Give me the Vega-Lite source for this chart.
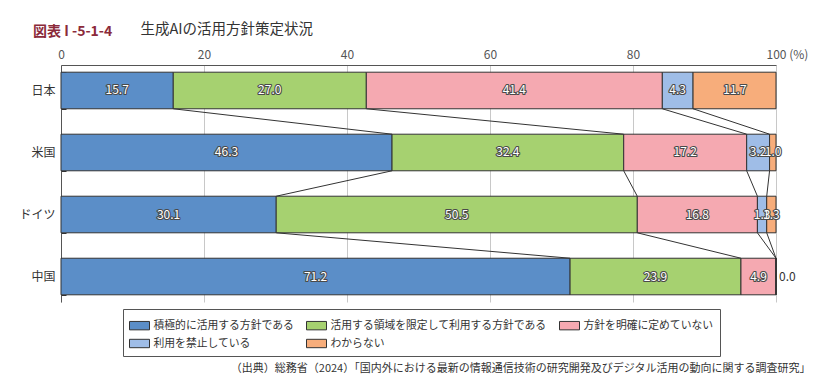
{
  "$schema": "https://vega.github.io/schema/vega-lite/v6.json",
  "width": 715,
  "height": 237,
  "autosize": {"type": "none"},
  "padding": {"left": 61, "top": 65, "right": 53, "bottom": 84},
  "background": "white",
  "config": {
    "font": "Noto Sans CJK JP",
    "view": {"stroke": null},
    "axis": {"labelFont": "Noto Sans CJK JP", "titleFont": "Noto Sans CJK JP"},
    "legend": {"labelFont": "Noto Sans CJK JP"}
  },
  "title": {
    "text": "図表 I -5-1-4",
    "anchor": "start",
    "frame": "group",
    "dx": -28,
    "dy": 22,
    "fontSize": 14,
    "fontWeight": "bold",
    "color": "#8b2a3a",
    "font": "Noto Sans CJK JP"
  },
  "datasets": {
    "bars": [
      {"country": "日本", "category": "積極的に活用する方針である", "k": 1, "value": 15.7},
      {"country": "日本", "category": "活用する領域を限定して利用する方針である", "k": 2, "value": 27.0},
      {"country": "日本", "category": "方針を明確に定めていない", "k": 3, "value": 41.4},
      {"country": "日本", "category": "利用を禁止している", "k": 4, "value": 4.3},
      {"country": "日本", "category": "わからない", "k": 5, "value": 11.7},
      {"country": "米国", "category": "積極的に活用する方針である", "k": 1, "value": 46.3},
      {"country": "米国", "category": "活用する領域を限定して利用する方針である", "k": 2, "value": 32.4},
      {"country": "米国", "category": "方針を明確に定めていない", "k": 3, "value": 17.2},
      {"country": "米国", "category": "利用を禁止している", "k": 4, "value": 3.2},
      {"country": "米国", "category": "わからない", "k": 5, "value": 1.0},
      {"country": "ドイツ", "category": "積極的に活用する方針である", "k": 1, "value": 30.1},
      {"country": "ドイツ", "category": "活用する領域を限定して利用する方針である", "k": 2, "value": 50.5},
      {"country": "ドイツ", "category": "方針を明確に定めていない", "k": 3, "value": 16.8},
      {"country": "ドイツ", "category": "利用を禁止している", "k": 4, "value": 1.3},
      {"country": "ドイツ", "category": "わからない", "k": 5, "value": 1.3},
      {"country": "中国", "category": "積極的に活用する方針である", "k": 1, "value": 71.2},
      {"country": "中国", "category": "活用する領域を限定して利用する方針である", "k": 2, "value": 23.9},
      {"country": "中国", "category": "方針を明確に定めていない", "k": 3, "value": 4.9},
      {"country": "中国", "category": "利用を禁止している", "k": 4, "value": 0.0},
      {"country": "中国", "category": "わからない", "k": 5, "value": 0.0}
    ],
    "links": [
      {"from": "日本", "to": "米国", "x_from": 15.7, "x_to": 46.3},
      {"from": "日本", "to": "米国", "x_from": 42.7, "x_to": 78.7},
      {"from": "日本", "to": "米国", "x_from": 84.1, "x_to": 95.9},
      {"from": "日本", "to": "米国", "x_from": 88.4, "x_to": 99.1},
      {"from": "米国", "to": "ドイツ", "x_from": 46.3, "x_to": 30.1},
      {"from": "米国", "to": "ドイツ", "x_from": 78.7, "x_to": 80.6},
      {"from": "米国", "to": "ドイツ", "x_from": 95.9, "x_to": 97.4},
      {"from": "米国", "to": "ドイツ", "x_from": 99.1, "x_to": 98.7},
      {"from": "ドイツ", "to": "中国", "x_from": 30.1, "x_to": 71.2},
      {"from": "ドイツ", "to": "中国", "x_from": 80.6, "x_to": 95.1},
      {"from": "ドイツ", "to": "中国", "x_from": 97.4, "x_to": 100.0},
      {"from": "ドイツ", "to": "中国", "x_from": 98.7, "x_to": 100.0}
    ]
  },
  "layer": [
    {
      "data": {"name": "bars"},
      "mark": {"type": "bar", "stroke": "#333333", "strokeWidth": 1},
      "encoding": {
        "y": {
          "field": "country",
          "type": "nominal",
          "title": null,
          "scale": {"domain": ["日本", "米国", "ドイツ", "中国"], "paddingInner": 0.41, "paddingOuter": 0.116},
          "axis": {
            "labelFontSize": 12,
            "labelColor": "#333333",
            "labelPadding": 11,
            "domainColor": "#555555",
            "domainWidth": 1,
            "ticks": true,
            "tickBand": "extent",
            "tickColor": "#333333",
            "tickSize": -5,
            "grid": false
          }
        },
        "x": {
          "field": "value",
          "type": "quantitative",
          "stack": "zero",
          "scale": {"domain": [0, 100], "clamp": true, "nice": false},
          "axis": {
            "orient": "top",
            "values": [0, 20, 40, 60, 80, 100],
            "labelExpr": "datum.value == 100 ? '100 (%)' : datum.label",
            "labelAlign": {"condition": {"test": "datum.value == 100", "value": "left"}, "value": "center"},
            "labelOffset": {"condition": {"test": "datum.value == 100", "value": -10}, "value": 0},
            "labelFontSize": 12,
            "labelColor": "#555555",
            "labelPadding": 4,
            "ticks": false,
            "domainColor": "#555555",
            "grid": true,
            "gridColor": "#c8c8c8",
            "title": "生成AIの活用方針策定状況",
            "titleX": 79,
            "titleY": -36,
            "titleAlign": "left",
            "titleBaseline": "middle",
            "titleFontSize": 14.5,
            "titleFontWeight": "normal",
            "titleColor": "#333333"
          }
        },
        "color": {
          "field": "category",
          "type": "nominal",
          "scale": {
            "domain": ["積極的に活用する方針である", "活用する領域を限定して利用する方針である", "方針を明確に定めていない", "利用を禁止している", "わからない"],
            "range": ["#5b8ec8", "#a6d170", "#f5a9b1", "#9fbde7", "#f7ad7b"]
          },
          "legend": {
            "orient": "none",
            "legendX": 62,
            "legendY": 244,
            "direction": "horizontal",
            "columns": 3,
            "title": null,
            "fillColor": "white",
            "strokeColor": "#555555",
            "padding": 6,
            "labelFontSize": 10.8,
            "labelColor": "#333333",
            "labelOffset": 3.5,
            "labelLimit": 400,
            "symbolType": "M-1,-0.42H1V0.42H-1Z",
            "symbolSize": 400,
            "symbolStrokeColor": "#333333",
            "symbolStrokeWidth": 1,
            "symbolOpacity": 1,
            "columnPadding": 10,
            "rowPadding": 1
          }
        },
        "order": {"field": "k", "type": "quantitative"}
      }
    },
    {
      "data": {"name": "links"},
      "mark": {"type": "rule", "color": "#333333", "strokeWidth": 1},
      "encoding": {
        "y": {"field": "from", "type": "nominal", "title": null, "bandPosition": 1, "scale": {"domain": ["日本", "米国", "ドイツ", "中国"]}},
        "y2": {"field": "to", "bandPosition": 0},
        "x": {
          "field": "x_from",
          "type": "quantitative",
          "scale": {"domain": [0, 100], "nice": false},
          "axis": {
            "orient": "bottom",
            "labels": false,
            "ticks": false,
            "domain": false,
            "grid": false,
            "title": "（出典）総務省（2024）「国内外における最新の情報通信技術の研究開発及びデジタル活用の動向に関する調査研究」",
            "titleX": 749,
            "titleY": 66,
            "titleAlign": "right",
            "titleBaseline": "middle",
            "titleFontSize": 11,
            "titleFontWeight": "normal",
            "titleColor": "#333333"
          }
        },
        "x2": {"field": "x_to"}
      }
    },
    {
      "data": {"name": "bars"},
      "transform": [{"filter": "datum.value > 0"}],
      "mark": {"type": "text", "fontSize": 12, "stroke": "#4a4a4a", "strokeWidth": 2.2, "fill": "#4a4a4a", "strokeJoin": "round"},
      "encoding": {
        "y": {"field": "country", "type": "nominal", "title": null},
        "x": {"field": "value", "type": "quantitative", "stack": "zero", "bandPosition": 0.5, "scale": {"domain": [0, 100], "nice": false}, "axis": null},
        "detail": {"field": "category"},
        "order": {"field": "k", "type": "quantitative"},
        "text": {"field": "value", "type": "quantitative", "format": ".1f"}
      }
    },
    {
      "data": {"name": "bars"},
      "transform": [{"filter": "datum.value > 0"}],
      "mark": {"type": "text", "fontSize": 12, "fill": "white"},
      "encoding": {
        "y": {"field": "country", "type": "nominal", "title": null},
        "x": {"field": "value", "type": "quantitative", "stack": "zero", "bandPosition": 0.5, "scale": {"domain": [0, 100], "nice": false}, "axis": null},
        "detail": {"field": "category"},
        "order": {"field": "k", "type": "quantitative"},
        "text": {"field": "value", "type": "quantitative", "format": ".1f"}
      }
    },
    {
      "data": {"name": "bars"},
      "transform": [
        {"stack": "value", "groupby": ["country"], "sort": [{"field": "k", "order": "ascending"}], "as": ["v0", "v1"]},
        {"filter": "datum.value == 0 && datum.k == 5"}
      ],
      "mark": {"type": "text", "fontSize": 12, "fill": "#333333", "align": "left", "dx": 3},
      "encoding": {
        "y": {"field": "country", "type": "nominal", "title": null},
        "x": {"field": "v1", "type": "quantitative", "scale": {"domain": [0, 100], "nice": false}, "axis": null},
        "text": {"field": "value", "type": "quantitative", "format": ".1f"}
      }
    }
  ],
  "resolve": {"axis": {"x": "independent"}}
}
